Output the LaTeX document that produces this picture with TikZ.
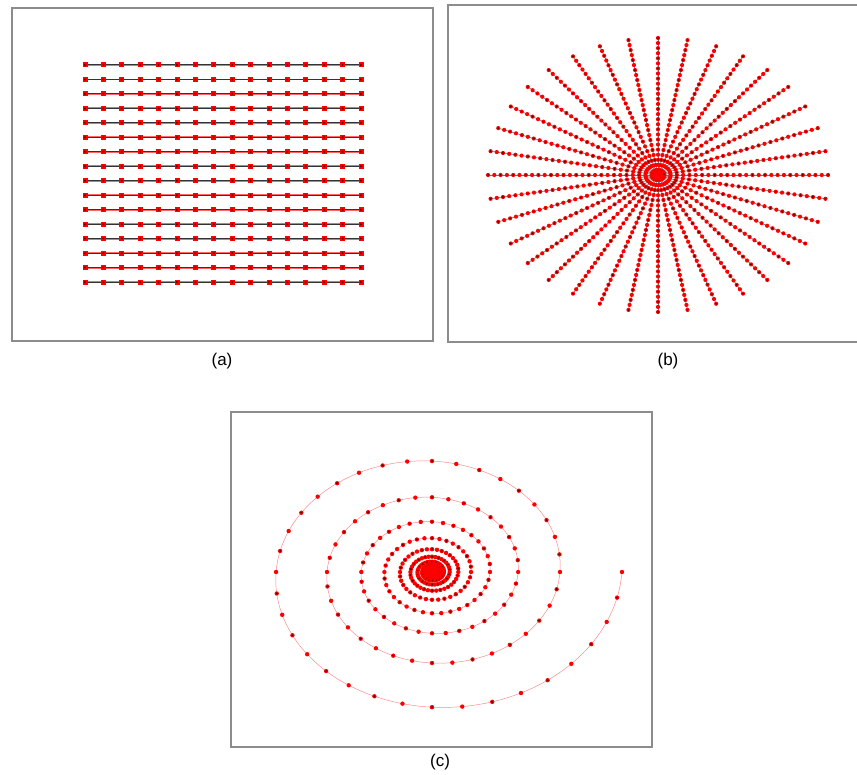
\documentclass[tikz,border=0pt]{standalone}
\usepackage{fontspec}
\setmainfont{Liberation Sans}
\begin{document}
\begin{tikzpicture}[x=1pt,y=-1pt,
  frame/.style={draw=black!45,line width=1.3pt},
  lbl/.style={font=\fontsize{17}{20}\selectfont,inner sep=0pt},
  gridglow/.style={draw=red!60,line width=1.9pt},
  gridline/.style={draw=black!80,line width=1.0pt},
  rayline/.style={draw=black!55,line width=0.6pt},
  spirline/.style={draw=red!45,line width=0.5pt},
  dotouter/.style={fill=red},
  dotinner/.style={fill=red!40!black}]
\useasboundingbox (0,0) rectangle (857,775);
% ---------- frames ----------
\draw[frame] (12,8) rectangle (433,341);
\draw[frame] (860,5) -- (448,5) -- (448,342) -- (860,342);
\draw[frame] (231,412) rectangle (652,747);
% ---------- (a) grid ----------
\foreach \r in {0,...,15}{
  \pgfmathsetmacro\yy{65+\r*14.47}
  \draw[gridglow] (85,\yy) -- (361,\yy);
  \draw[gridline] (85,\yy) -- (361,\yy);
  \foreach \c in {0,...,15}{
    \pgfmathsetmacro\xx{85+\c*18.4}
    \fill[dotouter] (\xx-2.5,\yy-2.5) rectangle (\xx+2.5,\yy+2.5);
    \fill[dotinner] (\xx,\yy) circle (1.1pt);
  }
}
% ---------- (b) radial ----------
\foreach \k in {0,...,35}{
  \draw[rayline] (658,175) -- ({658+170*cos(10*\k)},{175+137*sin(10*\k)});
}
\fill[red] (658,175) ellipse (7pt and 6pt);
\foreach \k in {0,...,35}{
  \foreach \j in {1,...,27}{
    \pgfmathsetmacro\px{658+170*\j/27*cos(10*\k)}
    \pgfmathsetmacro\py{175+137*\j/27*sin(10*\k)}
    \fill[dotouter] (\px,\py) circle (2.1pt);
    \ifodd\j \fill[dotinner] (\px,\py) circle (1.1pt);\fi
  }
}
% ---------- (c) spiral ----------
\draw[spirline] plot[domain=0:4320,samples=900,smooth,variable=\t]
  ({432+190*exp(-0.0010917*\t)*cos(\t)},{572+149.2*exp(-0.0010917*\t)*sin(\t)});
\fill[red] (432,572) ellipse (8pt and 7pt);
\foreach \s in {0,...,432}{
  \pgfmathsetmacro\tt{10*\s}
  \pgfmathsetmacro\px{432+190*exp(-0.0010917*\tt)*cos(\tt)}
  \pgfmathsetmacro\py{572+149.2*exp(-0.0010917*\tt)*sin(\tt)}
  \fill[dotouter] (\px,\py) circle (2.2pt);
  \ifodd\s \fill[dotinner] (\px,\py) circle (1.2pt);\fi
}
% ---------- labels ----------
\node[lbl] (la) at (222,361) {(a)};
\node[lbl] (lb) at (668,361) {(b)};
\node[lbl] (lc) at (440,762) {(c)};
\end{tikzpicture}
\end{document}
